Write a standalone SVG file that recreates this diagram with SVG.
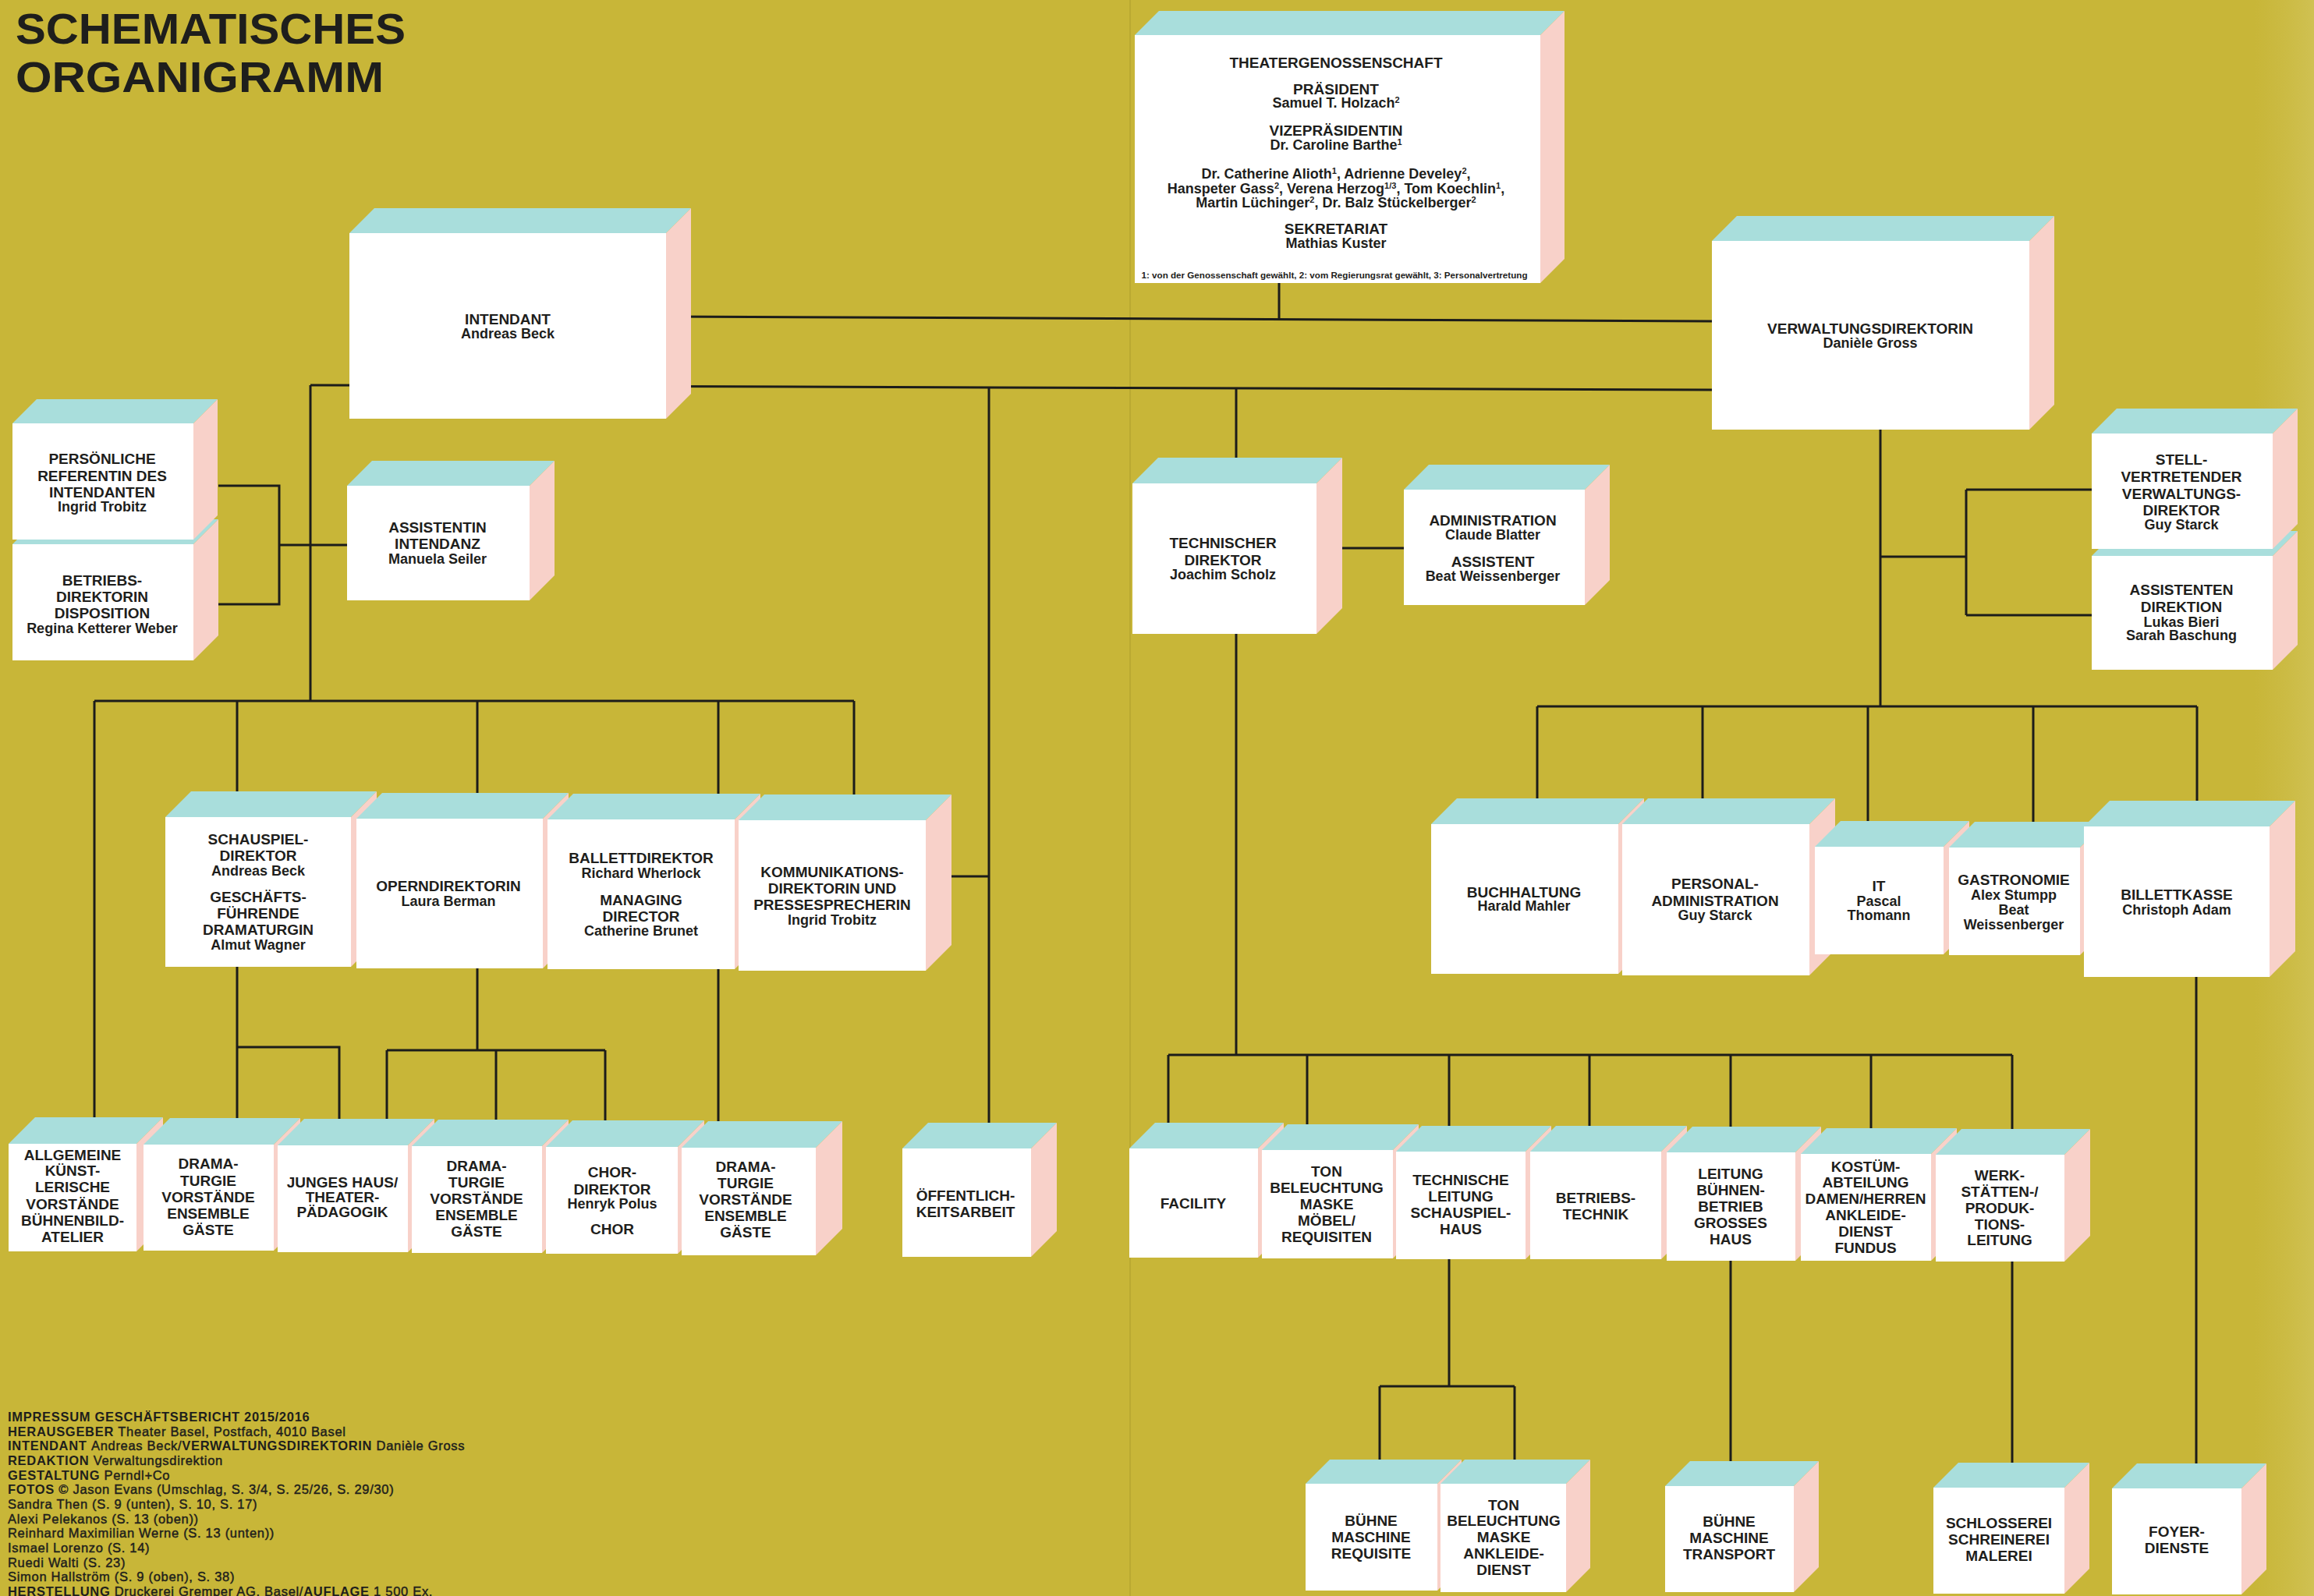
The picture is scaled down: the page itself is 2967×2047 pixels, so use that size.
<svg xmlns="http://www.w3.org/2000/svg" width="2967" height="2047" viewBox="0 0 2967 2047">
<defs>
<style>
.top{fill:#A9DEDC}
.side{fill:#F8D1C9}
.front{fill:#FFFFFF}
.ln{stroke:#1C1C1A;stroke-width:3;fill:none}
text{font-family:"Liberation Sans",Arial,sans-serif;font-weight:bold;fill:#1E1E1C}
.t{font-size:19px;text-anchor:middle}
.n{font-size:18px;text-anchor:middle}
.sup{font-size:11px;baseline-shift:super}
.title{font-size:55px}
.imp{font-size:16.5px;letter-spacing:0.7px}
.r{font-weight:normal;stroke:#1E1E1C;stroke-width:0.45px}
.foot{font-size:11px;text-anchor:middle}
</style>
<linearGradient id="edge" x1="0" y1="0" x2="1" y2="0">
<stop offset="0" stop-color="#D2C45A" stop-opacity="0"/>
<stop offset="1" stop-color="#D6CA68" stop-opacity="0.55"/>
</linearGradient>
</defs>
<rect x="0" y="0" width="2967" height="2047" fill="#C8B638"/>
<rect x="2890" y="0" width="77" height="2047" fill="url(#edge)"/>
<line x1="1449" y1="0" x2="1449" y2="2047" stroke="#B2A22E" stroke-width="2" opacity="0.6"/>

<g id="title">
<text class="title" x="20" y="56" textLength="500" lengthAdjust="spacingAndGlyphs">SCHEMATISCHES</text>
<text class="title" x="20" y="118" textLength="472" lengthAdjust="spacingAndGlyphs">ORGANIGRAMM</text>
</g>

<g id="connectors">
<path class="ln" d="M1640,363 V409"/>
<path class="ln" d="M854,406 L2195,412"/>
<path class="ln" d="M398,494 L2195,500"/>
<path class="ln" d="M398,494 V899"/>
<path class="ln" d="M280,623 H358 V775 H280 M358,699 H445"/>
<path class="ln" d="M121,899 H1095 M121,899 V1440 M304,899 V1022 M612,899 V1022 M921,899 V1022 M1095,899 V1024"/>
<path class="ln" d="M1268,497 V1445"/>
<path class="ln" d="M1187,1124 H1268"/>
<path class="ln" d="M304,1240 V1440 M304,1343 H435 V1440"/>
<path class="ln" d="M612,1242 V1347 M496,1347 H776 M496,1347 V1440 M636,1347 V1440 M776,1347 V1440"/>
<path class="ln" d="M921,1243 V1442"/>
<path class="ln" d="M1585,497 V1353 M1688,703 H1800"/>
<path class="ln" d="M1498,1353 H2580 M1498,1353 V1445 M1676,1353 V1447 M1858,1353 V1449 M2038,1353 V1449 M2219,1353 V1450 M2399,1353 V1452 M2580,1353 V1453"/>
<path class="ln" d="M1858,1615 V1778 M1769,1778 H1942 M1769,1778 V1877 M1942,1778 V1877"/>
<path class="ln" d="M2219,1617 V1879 M2580,1618 V1881"/>
<path class="ln" d="M2411,551 V906 M2411,714 H2521 M2521,628 V789 M2521,628 H2682 M2521,789 H2682"/>
<path class="ln" d="M1971,906 H2817 M1971,906 V1029 M2183,906 V1029 M2395,906 V1058 M2607,906 V1059 M2817,906 V1032"/>
<path class="ln" d="M2816,1253 V1882"/>
</g>

<g id="n-theater">
<polygon class="top" points="1455,45 1486,14 2006,14 1975,45"/>
<polygon class="side" points="1975,45 2006,14 2006,332 1975,363"/>
<rect class="front" x="1455" y="45" width="520" height="318"/>
<text class="t" x="1713" y="87">THEATERGENOSSENSCHAFT</text>
<text class="t" x="1713" y="121">PRÄSIDENT</text>
<text class="n" x="1713" y="138">Samuel T. Holzach<tspan class="sup">2</tspan></text>
<text class="t" x="1713" y="174">VIZEPRÄSIDENTIN</text>
<text class="n" x="1713" y="192">Dr. Caroline Barthe<tspan class="sup">1</tspan></text>
<text class="n" x="1713" y="229">Dr. Catherine Alioth<tspan class="sup">1</tspan>, Adrienne Develey<tspan class="sup">2</tspan>,</text>
<text class="n" x="1713" y="248">Hanspeter Gass<tspan class="sup">2</tspan>, Verena Herzog<tspan class="sup">1/3</tspan>, Tom Koechlin<tspan class="sup">1</tspan>,</text>
<text class="n" x="1713" y="266">Martin Lüchinger<tspan class="sup">2</tspan>, Dr. Balz Stückelberger<tspan class="sup">2</tspan></text>
<text class="t" x="1713" y="300">SEKRETARIAT</text>
<text class="n" x="1713" y="318">Mathias Kuster</text>
<text class="foot" x="1711" y="357" textLength="495" lengthAdjust="spacingAndGlyphs">1: von der Genossenschaft gewählt, 2: vom Regierungsrat gewählt, 3: Personalvertretung</text>
</g>

<g id="n-intendant">
<polygon class="top" points="448,299 480,267 886,267 854,299"/>
<polygon class="side" points="854,299 886,267 886,505 854,537"/>
<rect class="front" x="448" y="299" width="406" height="238"/>
<text class="t" x="651" y="416">INTENDANT</text>
<text class="n" x="651" y="434">Andreas Beck</text>
</g>

<g id="n-verwaltung">
<polygon class="top" points="2195,309 2227,277 2634,277 2602,309"/>
<polygon class="side" points="2602,309 2634,277 2634,519 2602,551"/>
<rect class="front" x="2195" y="309" width="407" height="242"/>
<text class="t" x="2398" y="428">VERWALTUNGSDIREKTORIN</text>
<text class="n" x="2398" y="446">Danièle Gross</text>
</g>

<g id="n-betriebsdirektorin">
<polygon class="top" points="16,698 48,666 280,666 248,698"/>
<polygon class="side" points="248,698 280,666 280,815 248,847"/>
<rect class="front" x="16" y="698" width="232" height="149"/>
<text class="t" x="131" y="751">BETRIEBS-</text>
<text class="t" x="131" y="772">DIREKTORIN</text>
<text class="t" x="131" y="793">DISPOSITION</text>
<text class="n" x="131" y="812">Regina Ketterer Weber</text>
</g>

<g id="n-referentin">
<polygon class="top" points="16,543 47,512 279,512 248,543"/>
<polygon class="side" points="248,543 279,512 279,661 248,692"/>
<rect class="front" x="16" y="543" width="232" height="149"/>
<text class="t" x="131" y="595">PERSÖNLICHE</text>
<text class="t" x="131" y="617">REFERENTIN DES</text>
<text class="t" x="131" y="638">INTENDANTEN</text>
<text class="n" x="131" y="656">Ingrid Trobitz</text>
</g>

<g id="n-assistentin">
<polygon class="top" points="445,623 477,591 711,591 679,623"/>
<polygon class="side" points="679,623 711,591 711,738 679,770"/>
<rect class="front" x="445" y="623" width="234" height="147"/>
<text class="t" x="561" y="683">ASSISTENTIN</text>
<text class="t" x="561" y="704">INTENDANZ</text>
<text class="n" x="561" y="723">Manuela Seiler</text>
</g>

<g id="n-technischer-direktor">
<polygon class="top" points="1452,620 1485,587 1721,587 1688,620"/>
<polygon class="side" points="1688,620 1721,587 1721,780 1688,813"/>
<rect class="front" x="1452" y="620" width="236" height="193"/>
<text class="t" x="1568" y="703">TECHNISCHER</text>
<text class="t" x="1568" y="725">DIREKTOR</text>
<text class="n" x="1568" y="743">Joachim Scholz</text>
</g>

<g id="n-administration">
<polygon class="top" points="1800,628 1832,596 2064,596 2032,628"/>
<polygon class="side" points="2032,628 2064,596 2064,744 2032,776"/>
<rect class="front" x="1800" y="628" width="232" height="148"/>
<text class="t" x="1914" y="674">ADMINISTRATION</text>
<text class="n" x="1914" y="692">Claude Blatter</text>
<text class="t" x="1914" y="727">ASSISTENT</text>
<text class="n" x="1914" y="745">Beat Weissenberger</text>
</g>

<g id="n-assistenten-direktion">
<polygon class="top" points="2682,713 2714,681 2946,681 2914,713"/>
<polygon class="side" points="2914,713 2946,681 2946,827 2914,859"/>
<rect class="front" x="2682" y="713" width="232" height="146"/>
<text class="t" x="2797" y="763">ASSISTENTEN</text>
<text class="t" x="2797" y="785">DIREKTION</text>
<text class="n" x="2797" y="804">Lukas Bieri</text>
<text class="n" x="2797" y="821">Sarah Baschung</text>
</g>

<g id="n-stellvertreter">
<polygon class="top" points="2682,556 2714,524 2946,524 2914,556"/>
<polygon class="side" points="2914,556 2946,524 2946,672 2914,704"/>
<rect class="front" x="2682" y="556" width="232" height="148"/>
<text class="t" x="2797" y="596">STELL-</text>
<text class="t" x="2797" y="618">VERTRETENDER</text>
<text class="t" x="2797" y="640">VERWALTUNGS-</text>
<text class="t" x="2797" y="661">DIREKTOR</text>
<text class="n" x="2797" y="679">Guy Starck</text>
</g>

<g id="n-schauspiel">
<polygon class="top" points="212,1048 245,1015 483,1015 450,1048"/>
<polygon class="side" points="450,1048 483,1015 483,1207 450,1240"/>
<rect class="front" x="212" y="1048" width="238" height="192"/>
<text class="t" x="331" y="1083">SCHAUSPIEL-</text>
<text class="t" x="331" y="1104">DIREKTOR</text>
<text class="n" x="331" y="1123">Andreas Beck</text>
<text class="t" x="331" y="1157">GESCHÄFTS-</text>
<text class="t" x="331" y="1178">FÜHRENDE</text>
<text class="t" x="331" y="1199">DRAMATURGIN</text>
<text class="n" x="331" y="1218">Almut Wagner</text>
</g>

<g id="n-oper">
<polygon class="top" points="457,1050 490,1017 729,1017 696,1050"/>
<polygon class="side" points="696,1050 729,1017 729,1209 696,1242"/>
<rect class="front" x="457" y="1050" width="239" height="192"/>
<text class="t" x="575" y="1143">OPERNDIREKTORIN</text>
<text class="n" x="575" y="1162">Laura Berman</text>
</g>

<g id="n-ballett">
<polygon class="top" points="702,1051 735,1018 975,1018 942,1051"/>
<polygon class="side" points="942,1051 975,1018 975,1210 942,1243"/>
<rect class="front" x="702" y="1051" width="240" height="192"/>
<text class="t" x="822" y="1107">BALLETTDIREKTOR</text>
<text class="n" x="822" y="1126">Richard Wherlock</text>
<text class="t" x="822" y="1161">MANAGING</text>
<text class="t" x="822" y="1182">DIRECTOR</text>
<text class="n" x="822" y="1200">Catherine Brunet</text>
</g>

<g id="n-kommunikation">
<polygon class="top" points="947,1052 980,1019 1220,1019 1187,1052"/>
<polygon class="side" points="1187,1052 1220,1019 1220,1212 1187,1245"/>
<rect class="front" x="947" y="1052" width="240" height="193"/>
<text class="t" x="1067" y="1125">KOMMUNIKATIONS-</text>
<text class="t" x="1067" y="1146">DIREKTORIN UND</text>
<text class="t" x="1067" y="1167">PRESSESPRECHERIN</text>
<text class="n" x="1067" y="1186">Ingrid Trobitz</text>
</g>

<g id="n-buchhaltung">
<polygon class="top" points="1835,1057 1868,1024 2108,1024 2075,1057"/>
<polygon class="side" points="2075,1057 2108,1024 2108,1216 2075,1249"/>
<rect class="front" x="1835" y="1057" width="240" height="192"/>
<text class="t" x="1954" y="1151">BUCHHALTUNG</text>
<text class="n" x="1954" y="1168">Harald Mahler</text>
</g>

<g id="n-personal">
<polygon class="top" points="2080,1057 2113,1024 2353,1024 2320,1057"/>
<polygon class="side" points="2320,1057 2353,1024 2353,1218 2320,1251"/>
<rect class="front" x="2080" y="1057" width="240" height="194"/>
<text class="t" x="2199" y="1140">PERSONAL-</text>
<text class="t" x="2199" y="1162">ADMINISTRATION</text>
<text class="n" x="2199" y="1180">Guy Starck</text>
</g>

<g id="n-it">
<polygon class="top" points="2327,1086 2360,1053 2525,1053 2492,1086"/>
<polygon class="side" points="2492,1086 2525,1053 2525,1191 2492,1224"/>
<rect class="front" x="2327" y="1086" width="165" height="138"/>
<text class="t" x="2409" y="1143">IT</text>
<text class="n" x="2409" y="1162">Pascal</text>
<text class="n" x="2409" y="1180">Thomann</text>
</g>

<g id="n-gastronomie">
<polygon class="top" points="2499,1087 2532,1054 2700,1054 2667,1087"/>
<polygon class="side" points="2667,1087 2700,1054 2700,1192 2667,1225"/>
<rect class="front" x="2499" y="1087" width="168" height="138"/>
<text class="t" x="2582" y="1135">GASTRONOMIE</text>
<text class="n" x="2582" y="1154">Alex Stumpp</text>
<text class="n" x="2582" y="1173">Beat</text>
<text class="n" x="2582" y="1192">Weissenberger</text>
</g>

<g id="n-billettkasse">
<polygon class="top" points="2672,1060 2705,1027 2943,1027 2910,1060"/>
<polygon class="side" points="2910,1060 2943,1027 2943,1220 2910,1253"/>
<rect class="front" x="2672" y="1060" width="238" height="193"/>
<text class="t" x="2791" y="1154">BILLETTKASSE</text>
<text class="n" x="2791" y="1173">Christoph Adam</text>
</g>

<g id="n-allgemeine">
<polygon class="top" points="11,1467 45,1433 209,1433 175,1467"/>
<polygon class="side" points="175,1467 209,1433 209,1571 175,1605"/>
<rect class="front" x="11" y="1467" width="164" height="138"/>
<text class="t" x="93" y="1488">ALLGEMEINE</text>
<text class="t" x="93" y="1508">KÜNST-</text>
<text class="t" x="93" y="1529">LERISCHE</text>
<text class="t" x="93" y="1551">VORSTÄNDE</text>
<text class="t" x="93" y="1572">BÜHNENBILD-</text>
<text class="t" x="93" y="1593">ATELIER</text>
</g>

<g id="n-dramaturgie-1">
<polygon class="top" points="184,1468 218,1434 385,1434 351,1468"/>
<polygon class="side" points="351,1468 385,1434 385,1570 351,1604"/>
<rect class="front" x="184" y="1468" width="167" height="136"/>
<text class="t" x="267" y="1499">DRAMA-</text>
<text class="t" x="267" y="1521">TURGIE</text>
<text class="t" x="267" y="1542">VORSTÄNDE</text>
<text class="t" x="267" y="1563">ENSEMBLE</text>
<text class="t" x="267" y="1584">GÄSTE</text>
</g>

<g id="n-junges-haus">
<polygon class="top" points="356,1469 390,1435 557,1435 523,1469"/>
<polygon class="side" points="523,1469 557,1435 557,1572 523,1606"/>
<rect class="front" x="356" y="1469" width="167" height="137"/>
<text class="t" x="439" y="1523">JUNGES HAUS/</text>
<text class="t" x="439" y="1542">THEATER-</text>
<text class="t" x="439" y="1561">PÄDAGOGIK</text>
</g>

<g id="n-dramaturgie-2">
<polygon class="top" points="528,1470 562,1436 729,1436 695,1470"/>
<polygon class="side" points="695,1470 729,1436 729,1573 695,1607"/>
<rect class="front" x="528" y="1470" width="167" height="137"/>
<text class="t" x="611" y="1502">DRAMA-</text>
<text class="t" x="611" y="1523">TURGIE</text>
<text class="t" x="611" y="1544">VORSTÄNDE</text>
<text class="t" x="611" y="1565">ENSEMBLE</text>
<text class="t" x="611" y="1586">GÄSTE</text>
</g>

<g id="n-chor">
<polygon class="top" points="700,1471 734,1437 903,1437 869,1471"/>
<polygon class="side" points="869,1471 903,1437 903,1574 869,1608"/>
<rect class="front" x="700" y="1471" width="169" height="137"/>
<text class="t" x="785" y="1510">CHOR-</text>
<text class="t" x="785" y="1532">DIREKTOR</text>
<text class="n" x="785" y="1550">Henryk Polus</text>
<text class="t" x="785" y="1583">CHOR</text>
</g>

<g id="n-dramaturgie-3">
<polygon class="top" points="874,1472 908,1438 1080,1438 1046,1472"/>
<polygon class="side" points="1046,1472 1080,1438 1080,1576 1046,1610"/>
<rect class="front" x="874" y="1472" width="172" height="138"/>
<text class="t" x="956" y="1503">DRAMA-</text>
<text class="t" x="956" y="1524">TURGIE</text>
<text class="t" x="956" y="1545">VORSTÄNDE</text>
<text class="t" x="956" y="1566">ENSEMBLE</text>
<text class="t" x="956" y="1587">GÄSTE</text>
</g>

<g id="n-oeffentlichkeit">
<polygon class="top" points="1157,1473 1190,1440 1355,1440 1322,1473"/>
<polygon class="side" points="1322,1473 1355,1440 1355,1579 1322,1612"/>
<rect class="front" x="1157" y="1473" width="165" height="139"/>
<text class="t" x="1238" y="1540">ÖFFENTLICH-</text>
<text class="t" x="1238" y="1561">KEITSARBEIT</text>
</g>

<g id="n-facility">
<polygon class="top" points="1448,1473 1481,1440 1646,1440 1613,1473"/>
<polygon class="side" points="1613,1473 1646,1440 1646,1580 1613,1613"/>
<rect class="front" x="1448" y="1473" width="165" height="140"/>
<text class="t" x="1530" y="1550">FACILITY</text>
</g>

<g id="n-ton-1">
<polygon class="top" points="1618,1475 1651,1442 1819,1442 1786,1475"/>
<polygon class="side" points="1786,1475 1819,1442 1819,1581 1786,1614"/>
<rect class="front" x="1618" y="1475" width="168" height="139"/>
<text class="t" x="1701" y="1509">TON</text>
<text class="t" x="1701" y="1530">BELEUCHTUNG</text>
<text class="t" x="1701" y="1551">MASKE</text>
<text class="t" x="1701" y="1572">MÖBEL/</text>
<text class="t" x="1701" y="1593">REQUISITEN</text>
</g>

<g id="n-technische-leitung">
<polygon class="top" points="1790,1477 1823,1444 1989,1444 1956,1477"/>
<polygon class="side" points="1956,1477 1989,1444 1989,1582 1956,1615"/>
<rect class="front" x="1790" y="1477" width="166" height="138"/>
<text class="t" x="1873" y="1520">TECHNISCHE</text>
<text class="t" x="1873" y="1541">LEITUNG</text>
<text class="t" x="1873" y="1562">SCHAUSPIEL-</text>
<text class="t" x="1873" y="1583">HAUS</text>
</g>

<g id="n-betriebstechnik">
<polygon class="top" points="1962,1477 1995,1444 2163,1444 2130,1477"/>
<polygon class="side" points="2130,1477 2163,1444 2163,1582 2130,1615"/>
<rect class="front" x="1962" y="1477" width="168" height="138"/>
<text class="t" x="2046" y="1543">BETRIEBS-</text>
<text class="t" x="2046" y="1564">TECHNIK</text>
</g>

<g id="n-buehnenbetrieb">
<polygon class="top" points="2137,1478 2170,1445 2335,1445 2302,1478"/>
<polygon class="side" points="2302,1478 2335,1445 2335,1584 2302,1617"/>
<rect class="front" x="2137" y="1478" width="165" height="139"/>
<text class="t" x="2219" y="1512">LEITUNG</text>
<text class="t" x="2219" y="1533">BÜHNEN-</text>
<text class="t" x="2219" y="1554">BETRIEB</text>
<text class="t" x="2219" y="1575">GROSSES</text>
<text class="t" x="2219" y="1596">HAUS</text>
</g>

<g id="n-kostuem">
<polygon class="top" points="2309,1480 2342,1447 2509,1447 2476,1480"/>
<polygon class="side" points="2476,1480 2509,1447 2509,1584 2476,1617"/>
<rect class="front" x="2309" y="1480" width="167" height="137"/>
<text class="t" x="2392" y="1503">KOSTÜM-</text>
<text class="t" x="2392" y="1523">ABTEILUNG</text>
<text class="t" x="2392" y="1544">DAMEN/HERREN</text>
<text class="t" x="2392" y="1565">ANKLEIDE-</text>
<text class="t" x="2392" y="1586">DIENST</text>
<text class="t" x="2392" y="1607">FUNDUS</text>
</g>

<g id="n-werkstaetten">
<polygon class="top" points="2482,1481 2515,1448 2680,1448 2647,1481"/>
<polygon class="side" points="2647,1481 2680,1448 2680,1585 2647,1618"/>
<rect class="front" x="2482" y="1481" width="165" height="137"/>
<text class="t" x="2564" y="1514">WERK-</text>
<text class="t" x="2564" y="1535">STÄTTEN-/</text>
<text class="t" x="2564" y="1556">PRODUK-</text>
<text class="t" x="2564" y="1577">TIONS-</text>
<text class="t" x="2564" y="1597">LEITUNG</text>
</g>

<g id="n-buehne-requisite">
<polygon class="top" points="1674,1903 1705,1872 1874,1872 1843,1903"/>
<polygon class="side" points="1843,1903 1874,1872 1874,2009 1843,2040"/>
<rect class="front" x="1674" y="1903" width="169" height="137"/>
<text class="t" x="1758" y="1957">BÜHNE</text>
<text class="t" x="1758" y="1978">MASCHINE</text>
<text class="t" x="1758" y="1999">REQUISITE</text>
</g>

<g id="n-ton-2">
<polygon class="top" points="1847,1903 1878,1872 2039,1872 2008,1903"/>
<polygon class="side" points="2008,1903 2039,1872 2039,2011 2008,2042"/>
<rect class="front" x="1847" y="1903" width="161" height="139"/>
<text class="t" x="1928" y="1937">TON</text>
<text class="t" x="1928" y="1957">BELEUCHTUNG</text>
<text class="t" x="1928" y="1978">MASKE</text>
<text class="t" x="1928" y="1999">ANKLEIDE-</text>
<text class="t" x="1928" y="2020">DIENST</text>
</g>

<g id="n-buehne-transport">
<polygon class="top" points="2135,1906 2167,1874 2332,1874 2300,1906"/>
<polygon class="side" points="2300,1906 2332,1874 2332,2010 2300,2042"/>
<rect class="front" x="2135" y="1906" width="165" height="136"/>
<text class="t" x="2217" y="1958">BÜHNE</text>
<text class="t" x="2217" y="1979">MASCHINE</text>
<text class="t" x="2217" y="2000">TRANSPORT</text>
</g>

<g id="n-schlosserei">
<polygon class="top" points="2479,1908 2511,1876 2679,1876 2647,1908"/>
<polygon class="side" points="2647,1908 2679,1876 2679,2012 2647,2044"/>
<rect class="front" x="2479" y="1908" width="168" height="136"/>
<text class="t" x="2563" y="1960">SCHLOSSEREI</text>
<text class="t" x="2563" y="1981">SCHREINEREI</text>
<text class="t" x="2563" y="2002">MALEREI</text>
</g>

<g id="n-foyerdienste">
<polygon class="top" points="2708,1909 2740,1877 2906,1877 2874,1909"/>
<polygon class="side" points="2874,1909 2906,1877 2906,2013 2874,2045"/>
<rect class="front" x="2708" y="1909" width="166" height="136"/>
<text class="t" x="2791" y="1971">FOYER-</text>
<text class="t" x="2791" y="1992">DIENSTE</text>
</g>

<g id="impressum">
<text class="imp" x="10" y="1823">IMPRESSUM GESCHÄFTSBERICHT 2015/2016</text>
<text class="imp" x="10" y="1842">HERAUSGEBER <tspan class="r">Theater Basel, Postfach, 4010 Basel</tspan></text>
<text class="imp" x="10" y="1860">INTENDANT <tspan class="r">Andreas Beck/</tspan>VERWALTUNGSDIREKTORIN <tspan class="r">Danièle Gross</tspan></text>
<text class="imp" x="10" y="1879">REDAKTION <tspan class="r">Verwaltungsdirektion</tspan></text>
<text class="imp" x="10" y="1898">GESTALTUNG <tspan class="r">Perndl+Co</tspan></text>
<text class="imp" x="10" y="1916">FOTOS <tspan class="r">© Jason Evans (Umschlag, S. 3/4, S. 25/26, S. 29/30)</tspan></text>
<text class="imp r" x="10" y="1935">Sandra Then (S. 9 (unten), S. 10, S. 17)</text>
<text class="imp r" x="10" y="1954">Alexi Pelekanos (S. 13 (oben))</text>
<text class="imp r" x="10" y="1972">Reinhard Maximilian Werne (S. 13 (unten))</text>
<text class="imp r" x="10" y="1991">Ismael Lorenzo (S. 14)</text>
<text class="imp r" x="10" y="2010">Ruedi Walti (S. 23)</text>
<text class="imp r" x="10" y="2028">Simon Hallström (S. 9 (oben), S. 38)</text>
<text class="imp" x="10" y="2047">HERSTELLUNG <tspan class="r">Druckerei Gremper AG, Basel/</tspan>AUFLAGE <tspan class="r">1 500 Ex.</tspan></text>
</g>
</svg>
